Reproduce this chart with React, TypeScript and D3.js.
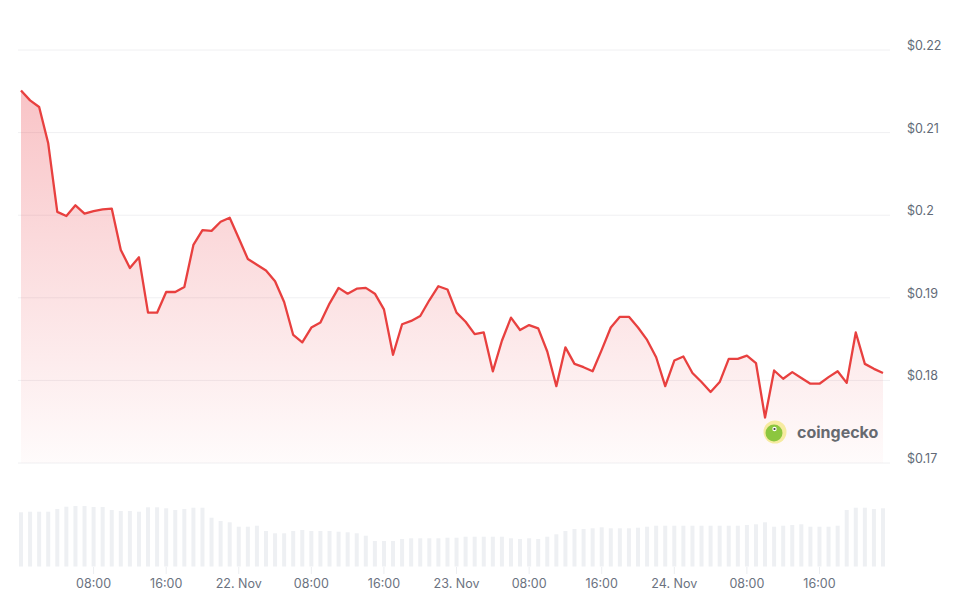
import React from "react";
import * as d3 from "d3";

// hourly prices, 21 Nov 00:00 -> 24 Nov 23:00 (UTC)
const prices: number[] = [
  0.2151, 0.2139, 0.2131, 0.2087, 0.2004, 0.1999, 0.2012, 0.2002, 0.2005, 0.2007,
  0.2008, 0.1958, 0.1936, 0.1949, 0.1882, 0.1882, 0.1907, 0.1907, 0.1913, 0.1964,
  0.1982, 0.1981, 0.1992, 0.1997, 0.1972, 0.1947, 0.194, 0.1933, 0.192, 0.1895,
  0.1855, 0.1846, 0.1864, 0.187, 0.1893, 0.1912, 0.1905, 0.1911, 0.1912, 0.1905,
  0.1886, 0.1831, 0.1868, 0.1872, 0.1878, 0.1897, 0.1914, 0.191, 0.1882, 0.1871,
  0.1856, 0.1858, 0.1811, 0.1848, 0.1876, 0.1861, 0.1867, 0.1863, 0.1835, 0.1793,
  0.184, 0.182, 0.1816, 0.1811, 0.1837, 0.1864, 0.1877, 0.1877, 0.1864, 0.1849,
  0.1828, 0.1793, 0.1824, 0.1829, 0.1809, 0.1798, 0.1786, 0.1798, 0.1826, 0.1826,
  0.183, 0.1821, 0.1755, 0.1812, 0.1802, 0.181, 0.1803, 0.1796, 0.1796, 0.1804,
  0.1811, 0.1797, 0.1858, 0.182, 0.1814, 0.1809,
];

// hourly volume (relative units)
const volumes: number[] = [
  54.2, 54.8, 54.8, 54.8, 57.5, 59.8, 60.5, 60.5, 59.5, 59.5,
  56.5, 55.5, 55.5, 54.8, 59.2, 59.2, 58.2, 56.5, 57.5, 58.8,
  58.8, 48.8, 45.5, 44.2, 39.8, 39.8, 40.8, 35.5, 33.2, 33.2,
  35.5, 36.5, 35.5, 35.5, 35.5, 34.8, 34.2, 33.2, 30.8, 25.5,
  25.5, 25.5, 27.5, 28.2, 28.2, 28.2, 28.2, 28.8, 28.8, 29.8,
  29.8, 29.8, 29.8, 29.8, 28.2, 27.5, 28.2, 27.5, 29.8, 32.2,
  35.5, 37.5, 37.5, 38.2, 39.2, 38.2, 38.2, 38.2, 38.8, 39.8,
  40.8, 40.8, 40.8, 40.8, 40.8, 40.8, 40.8, 40.8, 40.8, 40.8,
  41.5, 42.2, 44.2, 39.8, 40.8, 41.5, 42.2, 39.8, 39.8, 39.8,
  40.8, 56.5, 58.8, 58.8, 57.5, 58.2,
];

const priceTicks: number[] = [0.17, 0.18, 0.19, 0.2, 0.21, 0.22];
const priceTickLabels: string[] = ["$0.17", "$0.18", "$0.19", "$0.2", "$0.21", "$0.22"];

const startTime = Date.UTC(2023, 10, 21, 0, 0);
const HOUR = 3600 * 1000;

interface IPoint {
  date: Date;
  price: number;
  volume: number;
}

const data: IPoint[] = prices.map((p, i) => ({
  date: new Date(startTime + i * HOUR),
  price: p,
  volume: volumes[i],
}));

const timeTicks: Date[] = d3.range(8, 95, 8).map((h) => new Date(startTime + h * HOUR));

const App: React.FC = () => {
  const width = 955;
  const height = 600;
  const font = "Inter, 'Noto Sans', sans-serif";

  const xScale = d3
    .scaleUtc()
    .domain([data[0].date, data[data.length - 1].date])
    .range([21, 883]);
  const yScale = d3.scaleLinear().domain([0.17, 0.22]).range([463, 50]);
  const volScale = d3.scaleLinear().domain([0, 60.5]).range([566.5, 506]);

  const line = d3
    .line<IPoint>()
    .x((d) => xScale(d.date))
    .y((d) => yScale(d.price));
  const area = d3
    .area<IPoint>()
    .x((d) => xScale(d.date))
    .y0(yScale(0.17))
    .y1((d) => yScale(d.price));

  const fmtTick = (d: Date) =>
    d.getUTCHours() === 0 ? `${d.getUTCDate()}. Nov` : d3.utcFormat("%H:%M")(d);

  return (
    <div style={{ position: "absolute", left: 0, top: 0 }}>
      <svg width={width} height={height} style={{ display: "block", background: "#fff" }}>
        <defs>
          <linearGradient id="areaFill" x1="0" y1="0" x2="0" y2="1">
            <stop offset="0%" stopColor="#ea3943" stopOpacity={0.3} />
            <stop offset="100%" stopColor="#ea3943" stopOpacity={0.02} />
          </linearGradient>
        </defs>

        {/* grid */}
        {priceTicks.map((t) => (
          <line
            key={t}
            x1={18}
            x2={890}
            y1={yScale(t)}
            y2={yScale(t)}
            stroke="#f0f0f2"
            strokeWidth={1}
          />
        ))}

        {/* price labels */}
        {priceTicks.map((t, i) => (
          <text
            key={"l" + t}
            x={907}
            y={yScale(t)}
            fontFamily={font}
            fontSize={12.5}
            fill="#626a77"
          >
            {priceTickLabels[i]}
          </text>
        ))}

        {/* volume bars */}
        {data.map((d, i) => (
          <rect
            key={"v" + i}
            x={xScale(d.date) - 2}
            y={volScale(d.volume)}
            width={4}
            height={volScale(0) - volScale(d.volume)}
            fill="#eef0f3"
          />
        ))}

        {/* area + line */}
        <path d={area(data) || ""} fill="url(#areaFill)" />
        <path
          d={line(data) || ""}
          fill="none"
          stroke="#e8403f"
          strokeWidth={2.3}
          strokeLinejoin="round"
        />

        {/* x axis */}
        {timeTicks.map((t, i) => (
          <g key={"x" + i} transform={`translate(${xScale(t)},0)`}>
            <line y1={567} y2={574} stroke="#eceef1" />
            <text
              y={588}
              textAnchor="middle"
              fontFamily={font}
              fontSize={12.5}
              fill="#6b7280"
            >
              {fmtTick(t)}
            </text>
          </g>
        ))}

        {/* watermark */}
        <g transform="translate(775,432)">
          <circle r={11.5} fill="#f6eba0" />
          <circle r={8.5} cx={-1} cy={1} fill="#8cc63f" />
          <circle r={2.2} cx={-0.5} cy={-3} fill="#fff" />
          <circle r={1.1} cx={-0.5} cy={-3} fill="#3a3a3a" />
        </g>
        <text
          x={797}
          y={437.5}
          fontFamily={font}
          fontSize={16}
          fontWeight={700}
          fill="#666a70"
        >
          coingecko
        </text>
      </svg>
    </div>
  );
};

export default App;
